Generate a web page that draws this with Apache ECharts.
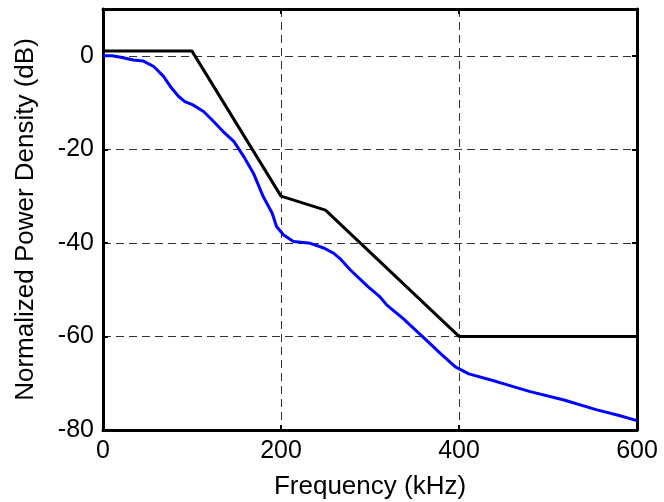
<!DOCTYPE html>
<html><head><meta charset="utf-8">
<script src="https://cdn.jsdelivr.net/npm/echarts@6/dist/echarts.min.js"></script>
<style>html,body{margin:0;padding:0;background:#fff}#c{width:664px;height:502px}</style>
</head><body><div id="c"></div>
<script>
var psdFreq = [0,10,20,34,45,57,68,77,85,92,101,113,124,135,147,158,169,180,190,195,203,214,233,248,259,266,278,298,311,319,338,343,360,379,396,411,443,480,518,555,580,600];
var psdDb   = [0,0,-0.3,-0.9,-1.1,-2.3,-4.4,-6.9,-8.7,-9.8,-10.5,-11.9,-14,-16.2,-18.3,-21.5,-25.1,-30.1,-33.6,-36.5,-38.3,-39.7,-40.1,-41.1,-42.2,-43.3,-45.8,-49.4,-51.5,-53.3,-56.3,-57.2,-60.2,-63.6,-66.5,-68,-69.7,-71.8,-73.6,-75.7,-76.9,-78];
var maskFreq = [0,100,200,250,400,600];
var maskDb   = [1,1,-30,-33,-60,-60];
var xTicks = [0,200,400,600];
var yTicks = [-80,-60,-40,-20,0];

function zip(a,b){return a.map(function(v,i){return [v,b[i]];});}
var font = 'Liberation Sans, Arial, sans-serif';
var gridLine = {show:true,lineStyle:{color:'#333',type:[8,5],width:1}};
var chart = echarts.init(document.getElementById('c'));
chart.setOption({
  animation:false,
  grid:{left:103,right:27,top:9,bottom:72,containLabel:false,outerBoundsMode:'none'},
  xAxis:[{
    type:'value',min:0,max:600,interval:200,position:'bottom',
    name:'Frequency (kHz)',nameLocation:'middle',nameGap:44,
    nameTextStyle:{fontFamily:font,fontSize:26,color:'#000'},
    axisLine:{show:true,onZero:false,lineStyle:{color:'#000',width:3}},
    axisTick:{show:true,inside:true,length:5,lineStyle:{color:'#000',width:2}},
    axisLabel:{fontFamily:font,fontSize:25,color:'#000',margin:9,
      formatter:function(v){return xTicks.indexOf(v)>=0?String(v):'';}},
    splitLine:gridLine
  },{
    type:'value',min:0,max:600,interval:200,position:'top',
    axisLine:{show:true,onZero:false,lineStyle:{color:'#000',width:3}},
    axisTick:{show:true,inside:true,length:5,lineStyle:{color:'#000',width:2}},
    axisLabel:{show:false},splitLine:{show:false}
  }],
  yAxis:[{
    type:'value',min:-80,max:10,interval:20,position:'left',
    name:'Normalized Power Density (dB)',nameLocation:'middle',nameGap:64,
    nameTextStyle:{fontFamily:font,fontSize:26,color:'#000'},
    axisLine:{show:true,onZero:false,lineStyle:{color:'#000',width:3}},
    axisTick:{show:true,inside:true,length:5,lineStyle:{color:'#000',width:2}},
    axisLabel:{fontFamily:font,fontSize:25,color:'#000',margin:9,showMaxLabel:false,
      formatter:function(v){return yTicks.indexOf(v)>=0?String(v):'';}},
    splitLine:gridLine
  },{
    type:'value',min:-80,max:10,interval:20,position:'right',
    axisLine:{show:true,onZero:false,lineStyle:{color:'#000',width:3}},
    axisTick:{show:true,inside:true,length:5,lineStyle:{color:'#000',width:2}},
    axisLabel:{show:false},splitLine:{show:false}
  }],
  series:[{
    type:'line',xAxisIndex:0,yAxisIndex:0,data:zip(psdFreq,psdDb),
    symbol:'none',lineStyle:{color:'#0000ff',width:3},z:3
  },{
    type:'line',xAxisIndex:0,yAxisIndex:0,data:zip(maskFreq,maskDb),
    symbol:'none',lineStyle:{color:'#000',width:3},z:4
  }]
});
</script></body></html>
